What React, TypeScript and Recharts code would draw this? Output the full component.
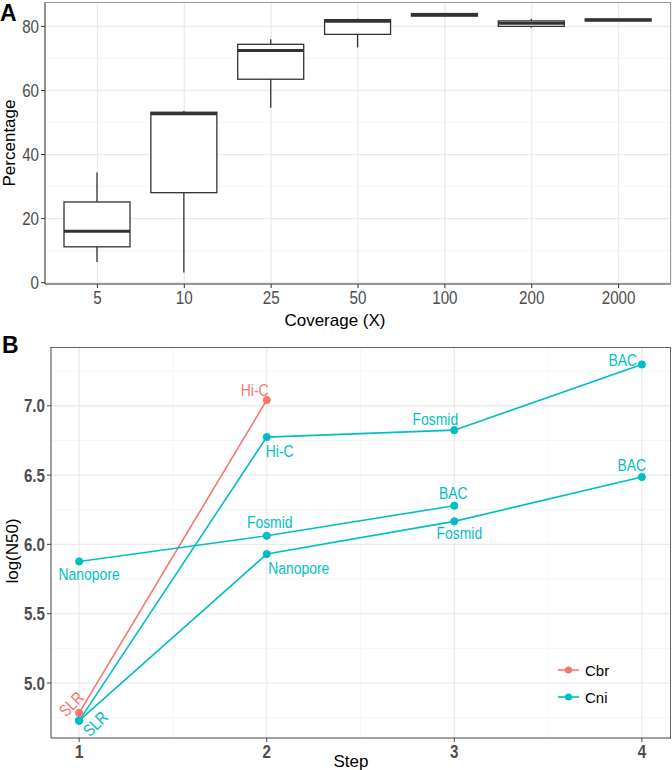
import React from "react";
import {
  ComposedChart,
  Bar,
  XAxis,
  YAxis,
  CartesianGrid,
  LineChart,
  Line,
  LabelList,
} from "recharts";

// ---- panel A: boxplots of percentage per coverage
const coverage = ["5", "10", "25", "50", "100", "200", "2000"];
const whiskerLow = [6.5, 3.2, 54.6, 73.4, 83.1, 79.6, 81.7];
const boxLow = [11.2, 28.1, 63.5, 77.5, 83.2, 80.0, 81.7];
const median = [16.1, 52.7, 72.5, 81.6, 83.6, 81.0, 82.0];
const boxHigh = [25.2, 53.2, 74.4, 82.1, 84.0, 81.7, 82.3];
const whiskerHigh = [34.4, 53.6, 76.0, 82.4, 84.1, 82.4, 82.3];
const pctTicks = [0, 20, 40, 60, 80];
const pctMinor = [10, 30, 50, 70];

// ---- panel B: log(N50) per step
const cbrSteps = [1, 2];
const cbrN50 = [4.784, 7.041];
const cbrTech = ["SLR", "Hi-C"];

const cniASteps = [1, 2, 3, 4];
const cniAN50 = [4.728, 6.774, 6.824, 7.298];
const cniATech = ["SLR", "Hi-C", "Fosmid", "BAC"];

const cniBSteps = [1, 2, 3];
const cniBN50 = [5.877, 6.062, 6.279];
const cniBTech = ["Nanopore", "Fosmid", "BAC"];

const cniCSteps = [1, 2, 3, 4];
const cniCN50 = [4.728, 5.93, 6.166, 6.486];
const cniCTech = ["", "Nanopore", "Fosmid", "BAC"];

const stepTicks = [1, 2, 3, 4];
const stepMinor = [1.5, 2.5, 3.5];
const n50Ticks = [5, 5.5, 6, 6.5, 7];
const n50Minor = [4.75, 5.25, 5.75, 6.25, 6.75, 7.25];
const species = ["Cbr", "Cni"];

const RED = "#F8766D";
const CYAN = "#00BFC4";
const SANS = "'Liberation Sans', Arial, sans-serif";
const NARROW = 0.82; // arial narrow ~ arial squeezed horizontally

// label nudges [dx, dy, rotation] — placement only
const cbrNudge = [[-8, -9, -45], [-12, -10, 0]];
const cniANudge = [[16, 3, -45], [13, 14, 0], [-19, -11, 0], [-19, -5, 0]];
const cniBNudge = [[10, 12, 0], [3, -14, 0], [-1, -13, 0]];
const cniCNudge = [[0, 0, 0], [32, 14, 0], [5, 12, 0], [-10, -12, 0]];

const boxData = coverage.map((c, i) => ({
  coverage: c,
  range: [whiskerLow[i], whiskerHigh[i]],
  q1: boxLow[i],
  med: median[i],
  q3: boxHigh[i],
}));

const toPoints = (steps: number[], vals: number[], tech: string[]) =>
  steps.map((s, i) => ({ step: s, n50: vals[i], tech: tech[i] }));

const cbrData = toPoints(cbrSteps, cbrN50, cbrTech);
const cniAData = toPoints(cniASteps, cniAN50, cniATech);
const cniBData = toPoints(cniBSteps, cniBN50, cniBTech);
const cniCData = toPoints(cniCSteps, cniCN50, cniCTech);

function BoxShape(props: any) {
  const { x, y, width, height, payload } = props;
  if (!payload) return null;
  const [lo, hi] = payload.range;
  const top = Math.min(y, y + height);
  const h = Math.abs(height);
  const py = (v: number) => top + ((hi - v) / (hi - lo)) * h;
  const cx = x + width / 2;
  const ink = "#333333";
  return (
    <g>
      <line x1={cx} x2={cx} y1={py(hi)} y2={py(lo)} stroke={ink} strokeWidth={1.3} />
      <rect
        x={x}
        y={py(payload.q3)}
        width={width}
        height={Math.max(py(payload.q1) - py(payload.q3), 0.5)}
        fill="#fff"
        stroke={ink}
        strokeWidth={1.3}
      />
      <line x1={x} x2={x + width} y1={py(payload.med)} y2={py(payload.med)} stroke={ink} strokeWidth={3} />
    </g>
  );
}

// squeezed tick text, like the narrow font of the original
const narrowTick = (side: "x" | "y", bold: boolean, fmt: (v: any) => string) => (p: any) => {
  const { x, y, payload } = p;
  return (
    <text
      transform={`translate(${x} ${y}) scale(${NARROW} 1)`}
      x={0}
      y={0}
      dy={side === "x" ? "0.75em" : "0.36em"}
      textAnchor={side === "x" ? "middle" : "end"}
      fill="#4D4D4D"
      fontSize={18.5}
      fontWeight={bold ? 700 : 400}
      fontFamily={SANS}
    >
      {fmt(payload.value)}
    </text>
  );
};

const makeLabel = (color: string, tech: string[], nudges: number[][]) => (p: any) => {
  const { x, y, value } = p;
  if (!value) return null;
  const i = tech.indexOf(value);
  const [dx, dy, rot] = nudges[i] || [0, 0, 0];
  const tx = x + dx;
  const ty = y + dy;
  return (
    <text
      transform={`translate(${tx} ${ty}) rotate(${rot}) scale(${NARROW} 1)`}
      x={0}
      y={0}
      dy="0.36em"
      fill={color}
      fontSize={17}
      fontFamily={SANS}
      textAnchor="middle"
    >
      {value}
    </text>
  );
};

export default function App() {
  return (
    <div style={{ position: "absolute", left: 0, top: 0, width: 672, height: 770, background: "#fff" }}>
      <div style={{ position: "absolute", left: 0, top: 0 }}>
        <ComposedChart width={672} height={330} data={boxData} margin={{ top: 2, right: 1, left: 0, bottom: 16 }}>
          <CartesianGrid horizontalValues={pctMinor} vertical={false} stroke="#F2F2F2" strokeWidth={0.7} />
          <CartesianGrid horizontalValues={pctTicks} stroke="#EBEBEB" strokeWidth={1.3} />
          <XAxis
            dataKey="coverage"
            padding={{ left: 9, right: 9 }}
            tick={narrowTick("x", false, (v) => String(v))}
            tickSize={4}
            stroke="#333"
            height={30}
            interval={0}
          />
          <YAxis
            type="number"
            domain={[-0.4, 87.6]}
            allowDataOverflow
            ticks={pctTicks}
            tick={narrowTick("y", false, (v) => String(v))}
            tickSize={4}
            stroke="#333"
            width={45}
          />
          <Bar dataKey="range" barSize={66} fill="#fff" shape={<BoxShape />} isAnimationActive={false} />
        </ComposedChart>
      </div>
      <div
        style={{
          position: "absolute",
          left: 45,
          top: 2,
          width: 626,
          height: 282,
          boxSizing: "border-box",
          borderTop: "1px solid #9a9a9a",
          borderRight: "1px solid #9a9a9a",
          pointerEvents: "none",
        }}
      />

      <div style={{ position: "absolute", left: 0, top: 330 }}>
        <LineChart width={672} height={440} margin={{ top: 17, right: 2, left: 0, bottom: 7 }}>
          <CartesianGrid
            horizontalValues={n50Minor}
            verticalValues={stepMinor}
            stroke="#F2F2F2"
            strokeWidth={0.7}
          />
          <CartesianGrid horizontalValues={n50Ticks} verticalValues={stepTicks} stroke="#EBEBEB" strokeWidth={1.3} />
          <XAxis
            dataKey="step"
            type="number"
            domain={[0.85, 4.15]}
            allowDataOverflow
            ticks={stepTicks}
            tick={narrowTick("x", true, (v) => String(v))}
            tickSize={4}
            stroke="#444"
            height={25}
          />
          <YAxis
            type="number"
            domain={[4.603, 7.424]}
            allowDataOverflow
            ticks={n50Ticks}
            tick={narrowTick("y", true, (v) => Number(v).toFixed(1))}
            tickSize={4}
            stroke="#444"
            width={51}
          />
          <Line
            data={cbrData}
            dataKey="n50"
            name={species[0]}
            stroke={RED}
            strokeWidth={1.6}
            dot={{ r: 3.6, fill: RED, stroke: RED, strokeWidth: 1 }}
            isAnimationActive={false}
          >
            <LabelList dataKey="tech" content={makeLabel(RED, cbrTech, cbrNudge)} />
          </Line>
          <Line
            data={cniAData}
            dataKey="n50"
            name={species[1]}
            stroke={CYAN}
            strokeWidth={1.6}
            dot={{ r: 3.6, fill: CYAN, stroke: CYAN, strokeWidth: 1 }}
            isAnimationActive={false}
          >
            <LabelList dataKey="tech" content={makeLabel(CYAN, cniATech, cniANudge)} />
          </Line>
          <Line
            data={cniBData}
            dataKey="n50"
            name={species[1]}
            stroke={CYAN}
            strokeWidth={1.6}
            dot={{ r: 3.6, fill: CYAN, stroke: CYAN, strokeWidth: 1 }}
            isAnimationActive={false}
          >
            <LabelList dataKey="tech" content={makeLabel(CYAN, cniBTech, cniBNudge)} />
          </Line>
          <Line
            data={cniCData}
            dataKey="n50"
            name={species[1]}
            stroke={CYAN}
            strokeWidth={1.6}
            dot={{ r: 3.6, fill: CYAN, stroke: CYAN, strokeWidth: 1 }}
            isAnimationActive={false}
          >
            <LabelList dataKey="tech" content={makeLabel(CYAN, cniCTech, cniCNudge)} />
          </Line>
        </LineChart>
      </div>
      <div
        style={{
          position: "absolute",
          left: 50,
          top: 347,
          width: 621,
          height: 392,
          boxSizing: "border-box",
          borderTop: "1px solid #666",
          borderRight: "1px solid #666",
          pointerEvents: "none",
        }}
      />

      <svg width={672} height={770} style={{ position: "absolute", left: 0, top: 0, pointerEvents: "none" }}>
        <text x={0} y={21} fontSize={23} fontWeight={700} fontFamily={SANS} fill="#000">A</text>
        <text x={2} y={353} fontSize={23} fontWeight={700} fontFamily={SANS} fill="#000">B</text>
        <text
          x={9}
          y={143}
          fontSize={17}
          fontFamily={SANS}
          textAnchor="middle"
          dominantBaseline="central"
          transform="rotate(-90 9 143)"
        >
          Percentage
        </text>
        <text x={335} y={320} fontSize={17} fontFamily={SANS} textAnchor="middle" dominantBaseline="central">
          Coverage (X)
        </text>
        <text
          x={12}
          y={551}
          fontSize={17}
          fontFamily={SANS}
          textAnchor="middle"
          dominantBaseline="central"
          transform="rotate(-90 12 551)"
        >
          log(N50)
        </text>
        <text x={351} y={761} fontSize={17} fontFamily={SANS} textAnchor="middle" dominantBaseline="central">
          Step
        </text>
        {species.map((s, i) => {
          const color = i === 0 ? RED : CYAN;
          const ly = 670 + i * 27;
          return (
            <g key={s}>
              <line x1={558} x2={579} y1={ly} y2={ly} stroke={color} strokeWidth={1.6} />
              <circle cx={568.5} cy={ly} r={3.6} fill={color} />
              <text x={585} y={ly} fontSize={15} fontFamily={SANS} dominantBaseline="central" fill="#000">
                {s}
              </text>
            </g>
          );
        })}
      </svg>
    </div>
  );
}
